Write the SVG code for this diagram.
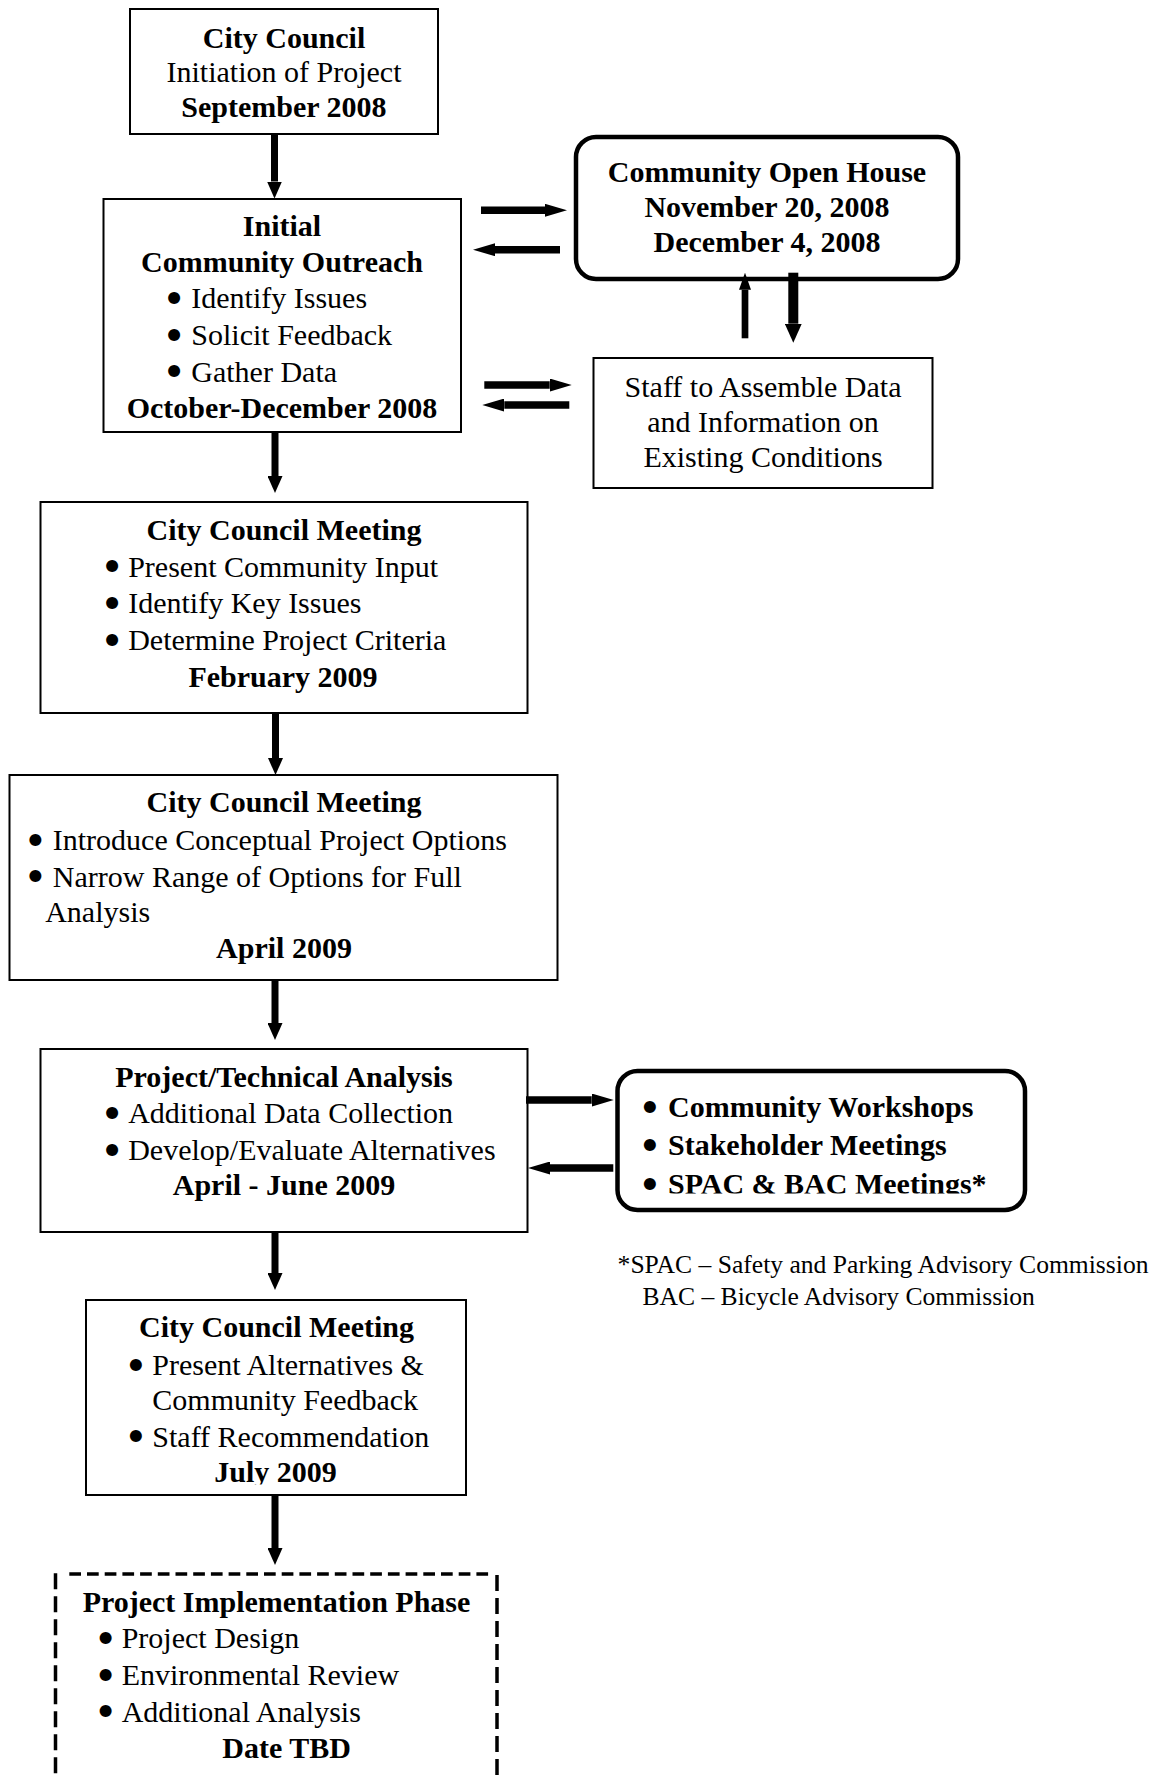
<svg xmlns="http://www.w3.org/2000/svg" width="1150" height="1777" viewBox="0 0 1150 1777">
<style>
  text { font-family: "Liberation Serif", "Times New Roman", serif; font-size: 30px; fill: #000; }
  .b { font-weight: bold; }
  .c { text-anchor: middle; }
  .bul { font-family: "DejaVu Sans", sans-serif; font-size: 34px; font-weight: bold; text-anchor: middle; }
  .fn { font-size: 25.6px; }
  .box { fill: #fff; stroke: #000; stroke-width: 2; }
  .rbox { fill: #fff; stroke: #000; stroke-width: 4.5; }
  .dashH { fill: none; stroke: #000; stroke-width: 3.5; stroke-dasharray: 11.7 6; }
  .dashV { fill: none; stroke: #000; stroke-width: 3.5; stroke-dasharray: 16 7; }
  .ar { stroke: #000; fill: none; }
</style>
<defs>
  <marker id="mV" markerUnits="userSpaceOnUse" viewBox="0 0 17 15" markerWidth="17" markerHeight="15" refX="0" refY="7.5" orient="auto"><path d="M0,0 L17,7.5 L0,15 Z" fill="#000"/></marker>
  <marker id="mH" markerUnits="userSpaceOnUse" viewBox="0 0 22 13" markerWidth="22" markerHeight="13" refX="0" refY="6.5" orient="auto"><path d="M0,0 L22,6.5 L0,13 Z" fill="#000"/></marker>
  <marker id="mD" markerUnits="userSpaceOnUse" viewBox="0 0 19 17" markerWidth="19" markerHeight="17" refX="0" refY="8.5" orient="auto"><path d="M0,0 L19,8.5 L0,17 Z" fill="#000"/></marker>
  <marker id="mU" markerUnits="userSpaceOnUse" viewBox="0 0 17 12" markerWidth="17" markerHeight="12" refX="0" refY="6" orient="auto"><path d="M0,0 L17,6 L0,12 Z" fill="#000"/></marker>
  <clipPath id="clipWS"><rect x="600" y="1060" width="440" height="133.5"/></clipPath>
  <clipPath id="clipB6"><rect x="80" y="1290" width="400" height="194.5"/></clipPath>
</defs>

<g id="node-council-initiation">
  <rect class="box" x="130" y="9" width="308" height="125"/>
  <text class="b c" x="284" y="48">City Council</text>
  <text class="c" x="284" y="82">Initiation of Project</text>
  <text class="b c" x="284" y="117">September 2008</text>
</g>

<g id="node-initial-outreach">
  <rect class="box" x="103.5" y="199" width="357.5" height="233"/>
  <text class="b c" x="282" y="236">Initial</text>
  <text class="b c" x="282" y="271.7">Community Outreach</text>
  <text class="bul" x="174" y="310.8">•</text><text x="191.3" y="308.3">Identify Issues</text>
  <text class="bul" x="174" y="347.5">•</text><text x="191.3" y="345">Solicit Feedback</text>
  <text class="bul" x="174" y="384.2">•</text><text x="191.3" y="381.7">Gather Data</text>
  <text class="b c" x="282" y="418.3">October-December 2008</text>
</g>

<g id="node-open-house">
  <rect class="rbox" x="576" y="137" width="382" height="142" rx="20" ry="20"/>
  <text class="b c" x="767" y="181.7">Community Open House</text>
  <text class="b c" x="767" y="216.7">November 20, 2008</text>
  <text class="b c" x="767" y="251.7">December 4, 2008</text>
</g>

<g id="node-staff-data">
  <rect class="box" x="593.5" y="358" width="339" height="130"/>
  <text class="c" x="763" y="396.7">Staff to Assemble Data</text>
  <text class="c" x="763" y="431.7">and Information on</text>
  <text class="c" x="763" y="466.7">Existing Conditions</text>
</g>

<g id="node-council-feb">
  <rect class="box" x="40.5" y="502" width="487" height="211"/>
  <text class="b c" x="284" y="540">City Council Meeting</text>
  <text class="bul" x="112" y="579.2">•</text><text x="128.2" y="576.7">Present Community Input</text>
  <text class="bul" x="112" y="615.8">•</text><text x="128.2" y="613.3">Identify Key Issues</text>
  <text class="bul" x="112" y="652.5">•</text><text x="128.2" y="650">Determine Project Criteria</text>
  <text class="b c" x="283" y="686.7">February 2009</text>
</g>

<g id="node-council-apr">
  <rect class="box" x="9.5" y="775" width="548" height="205"/>
  <text class="b c" x="284" y="811.7">City Council Meeting</text>
  <text class="bul" x="35.4" y="852.5">•</text><text x="52.8" y="850">Introduce Conceptual Project Options</text>
  <text class="bul" x="35.4" y="889.2">•</text><text x="52.8" y="886.7">Narrow Range of Options for Full</text>
  <text x="45.2" y="921.7">Analysis</text>
  <text class="b c" x="284" y="958.3">April 2009</text>
</g>

<g id="node-technical-analysis">
  <rect class="box" x="40.5" y="1049" width="487" height="183"/>
  <text class="b c" x="284" y="1086.7">Project/Technical Analysis</text>
  <text class="bul" x="112" y="1125.8">•</text><text x="128.2" y="1123.3">Additional Data Collection</text>
  <text class="bul" x="112" y="1162.5">•</text><text x="128.2" y="1160">Develop/Evaluate Alternatives</text>
  <text class="b c" x="284" y="1195">April - June 2009</text>
</g>

<g id="node-workshops">
  <rect class="rbox" x="617.5" y="1071" width="407.5" height="139" rx="20" ry="20"/>
  <g clip-path="url(#clipWS)">
    <text class="bul" x="649.8" y="1119.8">•</text><text class="b" x="668" y="1117.3">Community Workshops</text>
    <text class="bul" x="649.8" y="1157.5">•</text><text class="b" x="668" y="1155">Stakeholder Meetings</text>
    <text class="bul" x="649.8" y="1196.5">•</text><text class="b" x="668" y="1194">SPAC &amp; BAC Meetings*</text>
  </g>
</g>

<g id="footnote">
  <text class="fn" x="617.6" y="1273.3">*SPAC – Safety and Parking Advisory Commission</text>
  <text class="fn" x="642.4" y="1305">BAC – Bicycle Advisory Commission</text>
</g>

<g id="node-council-jul">
  <rect class="box" x="86" y="1300" width="380" height="195"/>
  <g clip-path="url(#clipB6)">
    <text class="b c" x="276.5" y="1336.7">City Council Meeting</text>
    <text class="bul" x="135.8" y="1377.5">•</text><text x="152.3" y="1375">Present Alternatives &amp;</text>
    <text x="152.3" y="1410">Community Feedback</text>
    <text class="bul" x="135.8" y="1449.2">•</text><text x="152.3" y="1446.7">Staff Recommendation</text>
    <text class="b c" x="275.6" y="1481.7">July 2009</text>
  </g>
</g>

<g id="node-implementation">
  <path class="dashH" d="M69.3,1574 H489"/>
  <path class="dashV" d="M55.5,1573.3 V1777"/>
  <path class="dashV" d="M497,1575 V1777"/>
  <text class="b c" x="276.5" y="1611.7">Project Implementation Phase</text>
  <text class="bul" x="105.5" y="1650.8">•</text><text x="121.7" y="1648.3">Project Design</text>
  <text class="bul" x="105.5" y="1687.5">•</text><text x="121.7" y="1685">Environmental Review</text>
  <text class="bul" x="105.5" y="1724.2">•</text><text x="121.7" y="1721.7">Additional Analysis</text>
  <text class="b c" x="286.6" y="1758.3">Date TBD</text>
</g>

<g id="connectors">
  <line class="ar" x1="274.5" y1="134" x2="274.5" y2="181.5" stroke-width="7" marker-end="url(#mV)"/>
  <line class="ar" x1="481" y1="210.3" x2="545" y2="210.3" stroke-width="7.5" marker-end="url(#mH)"/>
  <line class="ar" x1="560" y1="249.7" x2="495" y2="249.7" stroke-width="7.5" marker-end="url(#mH)"/>
  <line class="ar" x1="484.3" y1="385" x2="549.7" y2="385" stroke-width="7.5" marker-end="url(#mH)"/>
  <line class="ar" x1="569.3" y1="405" x2="504.3" y2="405" stroke-width="7.5" marker-end="url(#mH)"/>
  <line class="ar" x1="745" y1="338.3" x2="745" y2="289.7" stroke-width="6.7" marker-end="url(#mU)"/>
  <line class="ar" x1="793.3" y1="272.7" x2="793.3" y2="323.7" stroke-width="10" marker-end="url(#mD)"/>
  <line class="ar" x1="275" y1="432" x2="275" y2="476" stroke-width="7" marker-end="url(#mV)"/>
  <line class="ar" x1="275.5" y1="713" x2="275.5" y2="758" stroke-width="7" marker-end="url(#mV)"/>
  <line class="ar" x1="275" y1="980" x2="275" y2="1023" stroke-width="7" marker-end="url(#mV)"/>
  <line class="ar" x1="526" y1="1100" x2="591.7" y2="1100" stroke-width="7.5" marker-end="url(#mH)"/>
  <line class="ar" x1="613.3" y1="1168" x2="550" y2="1168" stroke-width="7.5" marker-end="url(#mH)"/>
  <line class="ar" x1="275" y1="1232" x2="275" y2="1273" stroke-width="7" marker-end="url(#mV)"/>
  <line class="ar" x1="275" y1="1495" x2="275" y2="1548" stroke-width="7" marker-end="url(#mV)"/>
</g>
</svg>
